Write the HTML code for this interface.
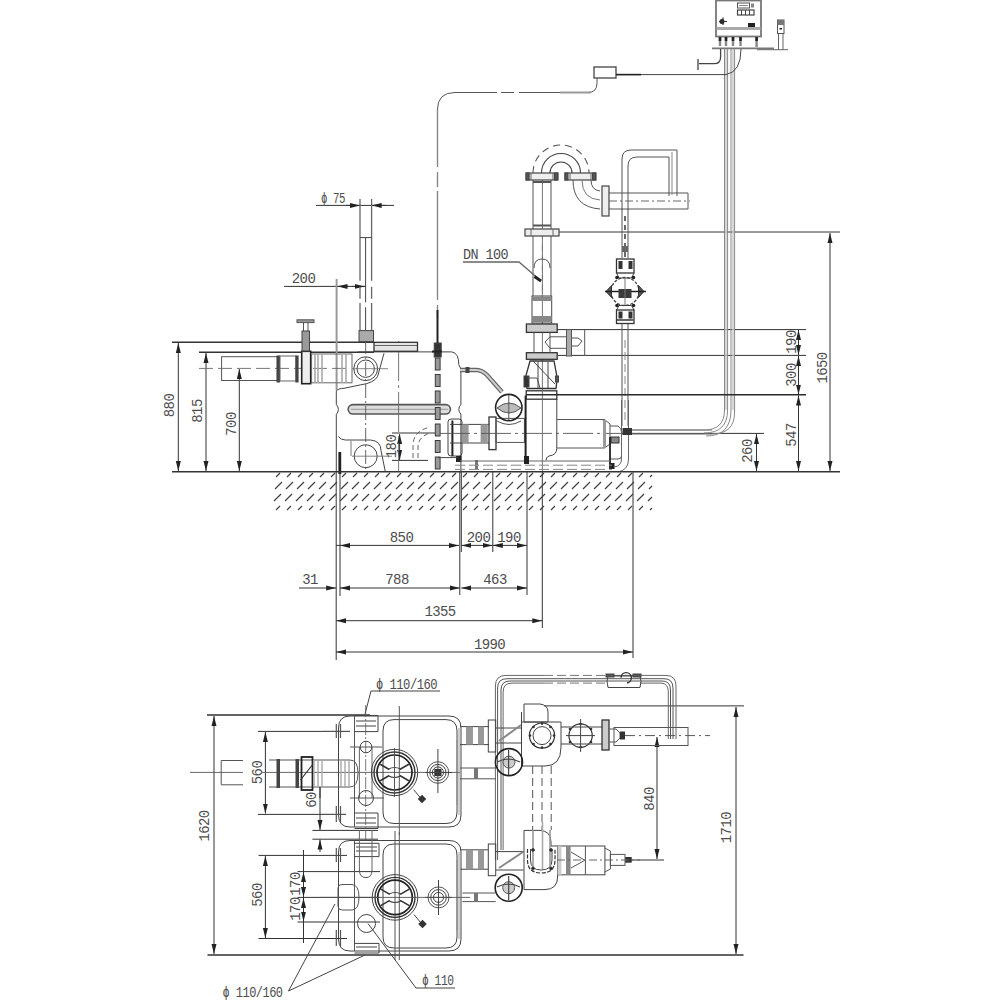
<!DOCTYPE html>
<html><head><meta charset="utf-8">
<style>
html,body{margin:0;padding:0;background:#fff;width:1000px;height:1000px;overflow:hidden}
svg{display:block}
text{font-family:"Liberation Mono",monospace;fill:#4d4d4d;font-size:14px;letter-spacing:-0.6px}
</style></head><body>
<svg width="1000" height="1000" viewBox="0 0 1000 1000">
<defs>
<marker id="ar" markerUnits="userSpaceOnUse" markerWidth="10" markerHeight="6" refX="10" refY="3" orient="auto-start-reverse"><path d="M0,0.5 L10,3 L0,5.5z" fill="#222"/></marker>
</defs>
<g id="dims-elev" stroke="#333" stroke-width="1" fill="none">
 <!-- horizontal reference lines -->
 <path d="M172,342.3H374 M199,352.2H374" stroke-width="1.5"/><path d="M559,232H840 M556,329.6H806 M558,355.4H806 M622,433.4H764"/>
 <!-- verticals w/ arrows -->
 <path d="M178.3,343V471" marker-start="url(#ar)" marker-end="url(#ar)"/>
 <path d="M206,353V471" marker-start="url(#ar)" marker-end="url(#ar)"/>
 <path d="M239.3,369V471" marker-start="url(#ar)" marker-end="url(#ar)"/>
 <path d="M830,233V471" marker-start="url(#ar)" marker-end="url(#ar)"/>
 <path d="M798.5,330V355" marker-start="url(#ar)" marker-end="url(#ar)"/>
 <path d="M798.5,356V394.5" marker-start="url(#ar)" marker-end="url(#ar)"/>
 <path d="M798.5,395.5V471" marker-start="url(#ar)" marker-end="url(#ar)"/>
 <path d="M756.5,434V471" marker-start="url(#ar)" marker-end="url(#ar)"/>
 <!-- bottom dims -->
 <path d="M336.2,472V660 M340,472V596 M459.8,472V595 M461.3,472V552 M492.8,472V552 M527,472V595 M542.3,472V628 M633,472V658"/>
 <path d="M336,545.4H340" />
 <path d="M340,545.4H459" marker-start="url(#ar)" marker-end="url(#ar)"/>
 <path d="M461.3,545.4H492.8" marker-start="url(#ar)" marker-end="url(#ar)"/>
 <path d="M492.8,545.4H527" marker-start="url(#ar)" marker-end="url(#ar)"/>
 <path d="M299,588H336.2" marker-end="url(#ar)"/>
 <path d="M340,588H459.8" marker-start="url(#ar)" marker-end="url(#ar)"/>
 <path d="M461.3,588H527" marker-start="url(#ar)" marker-end="url(#ar)"/>
 <path d="M336.2,620.7H542.3" marker-start="url(#ar)" marker-end="url(#ar)"/>
 <path d="M336.2,652H633" marker-start="url(#ar)" marker-end="url(#ar)"/>
 <!-- upper dims -->
 <path d="M316,205.4H394"/>
 <path d="M346,205.4H360" marker-end="url(#ar)"/>
 <path d="M386,205.4H371.6" marker-end="url(#ar)"/>
 <path d="M284,286.4H366"/><path d="M336.6,279V390" stroke="#999" stroke-width="2"/>
 <path d="M349,286.4H337.5" marker-end="url(#ar)"/>
 <path d="M352,286.4H364.6" marker-end="url(#ar)"/>
 <path d="M392,433H435 M392,460.4H428"/>
 <path d="M399.6,434V460" marker-start="url(#ar)" marker-end="url(#ar)"/>
</g>
<g id="txt-elev">
 <text transform="translate(174,405.5) rotate(-90)" text-anchor="middle">880</text>
 <text transform="translate(202,411) rotate(-90)" text-anchor="middle">815</text>
 <text transform="translate(235.5,424) rotate(-90)" text-anchor="middle">700</text>
 <text transform="translate(827,368) rotate(-90)" text-anchor="middle">1650</text>
 <text transform="translate(795.5,342) rotate(-90)" text-anchor="middle">190</text>
 <text transform="translate(795.5,375) rotate(-90)" text-anchor="middle">300</text>
 <text transform="translate(795.5,435) rotate(-90)" text-anchor="middle">547</text>
 <text transform="translate(752,451) rotate(-90)" text-anchor="middle">260</text>
 <text transform="translate(395.5,446.5) rotate(-90)" text-anchor="middle">180</text>
 <text x="401.5" y="541.5" text-anchor="middle">850</text>
 <text x="478.5" y="541.5" text-anchor="middle">200</text>
 <text x="509" y="541.5" text-anchor="middle">190</text>
 <text x="310" y="584" text-anchor="middle">31</text>
 <text x="397" y="584" text-anchor="middle">788</text>
 <text x="495" y="584" text-anchor="middle">463</text>
 <text x="440" y="616" text-anchor="middle">1355</text>
 <text x="489.5" y="648.5" text-anchor="middle">1990</text>
 <text x="321" y="203" textLength="24" lengthAdjust="spacingAndGlyphs">ϕ 75</text>
 <text x="303.5" y="283" text-anchor="middle">200</text>
 <text x="463" y="259" textLength="45" lengthAdjust="spacingAndGlyphs">DN 100</text>
</g>

<g id="tank-elev" stroke="#444" stroke-width="1" fill="none">
 <!-- tank outline -->
 <path d="M336.3,471.6V414.5 Q340.5,409.3 336.3,404.4 V391 Q338,388.5 344,388.3 L360.8,384.8 Q374,383 377.6,376.4 L384,353.3 M358,351.9 H451.8 Q458.8,353 458.8,364.5 Q461,368 460.9,372 V404.4 Q456.7,409.3 460.9,414.2 V471.6"/>
 <path d="M338.4,436.6 Q341,440 345.4,440 H370.6 Q381,441 381,450.6 L385.3,471.6" />
 <path d="M351,440.8V456" stroke="#777"/>
 <circle cx="365.7" cy="368.7" r="11.9"/><circle cx="365.7" cy="368.7" r="8.7"/>
 <circle cx="365.7" cy="456.2" r="11.5"/>
 <rect x="348.2" y="404.6" width="102.2" height="9.4" rx="4.7" stroke="#555" stroke-width="1.6" fill="#ddd"/>
 <path d="M351,409.3H448" stroke="#999"/>
 <path d="M365.7,340V472" stroke="#555" stroke-dasharray="14,3,2,3" stroke-width="0.9"/>
 <path d="M398.6,341V472" stroke="#666" stroke-dasharray="40,4,3,4" stroke-width="0.9"/>
 <path d="M352,368.7H388" stroke="#666" stroke-width="0.8"/>
 <path d="M352,456.2H392" stroke="#666" stroke-width="0.8"/>
 <!-- internal dashed bend -->
 <path d="M413,458 V446 Q413,432 427,428 M418,458 V447 Q418,437 430,433" stroke="#666" stroke-dasharray="5,3"/>
 <!-- top bar with vent -->
 <rect x="374" y="342.3" width="43.5" height="9" fill="#e4e4e4" stroke="#333" stroke-width="1.3"/><path d="M374,345.5H417" stroke="#666"/>
 <!-- phi75 vent pipe -->
 <path d="M360,199V280.8 M360,286.8V298.8 M360,303V330 M371.6,199V280.8 M371.6,286.8V298.8 M371.6,303V330" stroke="#666" stroke-width="1.3"/><path d="M365.6,237.6V302.4 M365.6,307.2V330 M360,237.6H371.6" stroke="#444"/>
 <rect x="359" y="330.6" width="14.5" height="11" fill="#aaa" stroke="#444"/>
 <!-- cable dashed vertical -->
 <rect x="435.3" y="358.0" width="4.8" height="12" fill="#999" stroke="#3a3a3a" stroke-width="1"/><rect x="435.3" y="374.5" width="4.8" height="12" fill="#999" stroke="#3a3a3a" stroke-width="1"/><rect x="435.3" y="391.0" width="4.8" height="12" fill="#999" stroke="#3a3a3a" stroke-width="1"/><rect x="435.3" y="407.5" width="4.8" height="12" fill="#999" stroke="#3a3a3a" stroke-width="1"/><rect x="435.3" y="424.0" width="4.8" height="12" fill="#999" stroke="#3a3a3a" stroke-width="1"/><rect x="435.3" y="440.5" width="4.8" height="12" fill="#999" stroke="#3a3a3a" stroke-width="1"/><rect x="435.3" y="457.0" width="4.8" height="12" fill="#999" stroke="#3a3a3a" stroke-width="1"/>
 <path d="M437.5,110V167 M437.5,172V187 M437.5,191V300 M437.5,305V318" stroke="#888" stroke-width="1.4"/>
 
 <rect x="434.2" y="343" width="7" height="14" fill="#333"/><path d="M432,351.5H442" stroke="#222" stroke-width="2"/>
 <path d="M437.5,310V343" stroke="#222" stroke-width="2"/>
 <!-- left inlet pipe -->
 <rect x="221.6" y="356.7" width="55.8" height="23.8" stroke="#555"/>
 <path d="M199,368.4H350" stroke="#666" stroke-dasharray="14,5" stroke-width="0.9"/>
 <rect x="276.5" y="355.5" width="3.5" height="27" fill="#444" stroke="none"/>
 <rect x="280" y="356" width="16" height="25" stroke="#666"/>
 <rect x="295.4" y="355.5" width="3.2" height="27" fill="#444" stroke="none"/>
 <rect x="301.7" y="351.3" width="9" height="32.4" stroke="#222" stroke-width="1.6" fill="#eee"/>
 <path d="M303.5,351V322.5 M308,351V322.5" stroke="#555"/><rect x="302" y="331" width="7.5" height="20" fill="#999" stroke="#444"/>
 <rect x="297" y="319.8" width="17" height="2.8" fill="#999" stroke="#555"/>
 <rect x="311.6" y="354" width="40.4" height="28.8" stroke="#666"/>
 <path d="M315,354V383 M318,354V383 M322,354V383 M342,354V383 M346,354V383" stroke="#aaa" stroke-width="1.6"/>
 <!-- bottom-left foot -->
 <rect x="338.4" y="452" width="2.8" height="22" fill="#222" stroke="none"/>
</g>
<g id="pump-elev" stroke="#444" stroke-width="1" fill="none">
 <!-- hose from tank to handwheel -->
 <path d="M460,370 H476 Q482,370 487,375 L502,392" stroke="#666" stroke-width="4.5"/>
 <path d="M460,370 H476 Q482,370 487,375 L502,392" stroke="#ccc" stroke-width="2"/>
 <rect x="466" y="367.5" width="3" height="5" fill="#444"/>
 <!-- inlet pipe -->
 <rect x="448" y="419" width="14" height="37" rx="3" stroke="#444"/>
 <path d="M452.4,420.5V456" stroke="#222" stroke-width="2"/>
 <rect x="456" y="456" width="5.5" height="6" fill="#222" stroke="none"/>
 <rect x="475" y="460" width="3" height="9" fill="#777" stroke="none"/>
 <path d="M438,457.6H458" stroke="#444"/>
 <path d="M450,424.4H489 M450,443H489"/>
 <rect x="462" y="424.4" width="6.6" height="18.6" fill="#999" stroke="none"/>
 <rect x="480.6" y="424.4" width="7.2" height="18.6" fill="#999" stroke="none"/>
 <rect x="489" y="417" width="7" height="32.6" stroke="#333" stroke-width="1.3"/>
 <rect x="496" y="418.4" width="28.4" height="24" stroke="#555"/>
 <circle cx="508.8" cy="407.6" r="13.2" stroke="#222" stroke-width="1.6"/>
 <path d="M497,408 Q509,398 521,408 Q509,418 497,408Z" fill="#bbb" stroke="#555"/>
 <path d="M508.8,395V420 M497,421 Q509,428 521,421" stroke="#555"/>
 <path d="M440,433.4H640" stroke="#555" stroke-dasharray="30,4,3,4" stroke-width="0.9"/>
 <!-- volute -->
 <path d="M525.6,395.6V459" stroke="#222" stroke-width="2"/>
 <rect x="526.2" y="390.8" width="30.6" height="8.4" stroke="#333" stroke-width="1.3"/>
 <path d="M556.8,399V448.4 Q556.8,455 549,456 Q546,457 546,460.4" />
 <path d="M542.4,180V472" stroke="#666" stroke-width="0.9"/>
 <!-- motor -->
 <path d="M557,419.5H604.5 L610,424 V444 L604.5,448 H557" stroke="#555"/>
 <path d="M604.5,420V448" stroke="#999" stroke-width="3"/>
 <path d="M610,426H618 Q621.5,428 621.5,432 V456 Q621.5,459 618,459 H610" stroke="#555"/>
 <rect x="611" y="437" width="8" height="6" fill="#888" stroke="#333"/>
 <path d="M610,437V469" stroke="#222" stroke-width="1.8"/>
 <rect x="609.5" y="463" width="5" height="6" fill="#222" stroke="none"/>
 <!-- base -->
 <path d="M526,461H610 M460,461H526" stroke="#666"/>
 <path d="M455,465.2H612 M455,469.4H612" stroke="#888" stroke-dasharray="10,4"/>
 <rect x="524" y="456" width="5" height="8" fill="#222" stroke="none"/>
 <!-- check valve -->
 <path d="M527,388.5 L525.3,378 L530,361 H554 L557.2,378 L556,388.5Z" stroke="#333" stroke-width="1.3"/>
 <path d="M533,361 L555,384 M538,362V388 M548,362V388" stroke="#444"/>
 <rect x="524" y="376" width="5" height="11" fill="#333"/>
 <rect x="555.5" y="376" width="3" height="6" fill="#555"/>
 <path d="M527,378H537 L540,388" stroke="#555"/>
 <!-- gate valve + flanges -->
 <rect x="526.4" y="352.7" width="30.8" height="6.6" stroke="#333" stroke-width="1.3" fill="#ccc"/>
 <rect x="526.4" y="324" width="30.8" height="8.4" stroke="#333" stroke-width="1.3" fill="#ccc"/>
 <path d="M534,332.4V352.7 M550,332.4V352.7" stroke="#555"/>
 <path d="M550,336.8H566.5 M550,348.3H566.5 M550,336.8 L545,342 L550,348.3" stroke="#555"/>
 <rect x="566.5" y="329.6" width="5" height="26.4" fill="#aaa" stroke="#555"/>
 <path d="M571.5,338H578 L582,341 L578,346 H571.5 M584.7,329.6V356" stroke="#555"/>
 <!-- coupling on DN100 -->
 <rect x="532" y="296" width="19.7" height="27" stroke="#444"/>
 <rect x="532" y="296.6" width="19.7" height="4.4" fill="#888" stroke="none"/>
 <rect x="532" y="316" width="19.7" height="6" fill="#888" stroke="none"/>
 <!-- DN100 pipe -->
 <path d="M533,180V229 M551,180V229 M533,236V296 M551,236V296" stroke="#555"/>
 <path d="M542.4,245V296" stroke="#777" stroke-dasharray="6,4"/>
 <path d="M534,268 Q534,259 542,259 Q550,259 550,268" stroke="#555"/>
 <rect x="525" y="229" width="34" height="7" stroke="#444" stroke-width="1.2" fill="#eee"/>
 <path d="M531,229V236 M553,229V236" stroke="#666"/>
 <rect x="526" y="173" width="32" height="7" stroke="#444" stroke-width="1.2" fill="#eee"/>
 <rect x="565" y="173" width="31" height="7" stroke="#444" stroke-width="1.2" fill="#eee"/>
 <path d="M531,173V180 M553,173V180 M570,173V180 M591,173V180" stroke="#666"/>
 
 <!-- U bend -->
 <path d="M541.5,173 A19.5,19.5 0 0 1 580.5,173" stroke="#444" stroke-width="1.1"/>
 <path d="M550,173 A11,11 0 0 1 572,173" stroke="#444" stroke-width="1.1"/>
 <path d="M533,173 A28,28 0 0 1 589,173" stroke="#555" stroke-dasharray="7,5" stroke-width="1.1"/>
 <rect x="526.2" y="173" width="3" height="7" fill="#555"/><rect x="554.5" y="173" width="3" height="7" fill="#555"/>
 <rect x="565" y="173" width="3" height="7" fill="#555"/><rect x="592.5" y="173" width="3" height="7" fill="#555"/>
 <path d="M533,182H551 M533,225.5H551" stroke="#555" stroke-width="2"/>
 <!-- elbow to horizontal -->
 <path d="M573,180 Q573,207 600,209 M591,180 Q591,190 600,191" stroke="#555"/>
 <path d="M582,180 Q582,199 600,200" stroke="#777"/>
 <rect x="602" y="186" width="7" height="30" stroke="#444" stroke-width="1.2" fill="#eee"/>
 <path d="M609,193H688V209H609" stroke="#555"/>
 <path d="M609,201H690" stroke="#666" stroke-dasharray="8,3,2,3"/>
 <!-- right bracket pipe -->
 <path d="M622,210V159 Q622,150 631,150 H677 V196" stroke="#555"/>
 <path d="M628,210V166 Q628,157 637,157 H669 V196" stroke="#555"/>
 <path d="M672,152V195" stroke="#888"/>
 <!-- vertical thin pipe to diaphragm valve -->
 <path d="M622,209V258 M628,209V258" stroke="#555"/>
 <path d="M625,216V258" stroke="#444" stroke-width="1.6" stroke-dasharray="5,4"/><path d="M622,249H628" stroke="#666" stroke-width="6"/>
 <rect x="616.5" y="259" width="17.5" height="14" stroke="#333" stroke-width="1.3"/>
 <rect x="618.5" y="261" width="4" height="8" fill="#333" stroke="none"/><rect x="628.5" y="261" width="4" height="8" fill="#333" stroke="none"/>
 <path d="M616.5,273 L619,278 H631.5 L634,273" stroke="#444"/>
 <circle cx="617" cy="277.5" r="1.8" fill="#222" stroke="none"/><circle cx="633.5" cy="277.5" r="1.8" fill="#222" stroke="none"/>
 <circle cx="625" cy="291.5" r="14" stroke="#444" stroke-width="1.3" stroke-dasharray="3,1.5"/>
 <path d="M606,291.5 L611.5,285.5 V297.5Z M644,291.5 L638.5,285.5 V297.5Z" fill="#555" stroke="#333"/>
 <path d="M605,291.5H646" stroke="#222" stroke-width="1.5"/>
 <rect x="618.5" y="289" width="13" height="9" fill="#3a3a3a" stroke="none"/>
 <path d="M625,278V305" stroke="#777"/>
 <circle cx="617" cy="305.5" r="1.8" fill="#222" stroke="none"/><circle cx="633.5" cy="305.5" r="1.8" fill="#222" stroke="none"/>
 <path d="M616.5,310 L619,305.5 H631.5 L634,310" stroke="#444"/>
 <rect x="616.5" y="310" width="17.5" height="13.5" stroke="#333" stroke-width="1.3"/>
 <rect x="618.5" y="311.5" width="4" height="7" fill="#333" stroke="none"/><rect x="628.5" y="311.5" width="4" height="7" fill="#333" stroke="none"/>
 <path d="M617,320H634" stroke="#666" stroke-width="2"/>
 <!-- pipe from diaphragm valve down -->
 <path d="M622,324V426 M628,324V426" stroke="#555"/>
 <path d="M621.5,400V459 Q621.5,466 614,467 M628.5,400V459 Q628.5,470 618,472" stroke="#666"/>
 <path d="M625,340V420" stroke="#888" stroke-dasharray="8,4"/>
 <rect x="622.5" y="428" width="9.5" height="7" fill="#333" stroke="none"/>
 <path d="M632,430H712 M632,434H712" stroke="#666"/>
 <!-- 1650 line leftover part over 190 nozzle -->
 <!-- DN100 leader -->
 <path d="M463,262H519 L541,281" stroke="#666" stroke-width="1.3"/>
 <path d="M534.5,276.5 L541,281" stroke="#222" stroke-width="3"/>
</g>
<g id="ctrl" stroke="#555" stroke-width="1" fill="none">
 <rect x="716" y="0.5" width="45" height="36" stroke="#777" stroke-width="1.8" fill="#fff"/>
 <rect x="716.5" y="27" width="44" height="3" fill="#aaa" stroke="none"/>
 <rect x="737.5" y="3" width="12" height="5" stroke="#555"/>
 <path d="M739,5.5H748" stroke="#888"/>
 <rect x="751" y="3.5" width="3" height="4" fill="#888" stroke="none"/>
 <rect x="737.5" y="10" width="16.5" height="5" stroke="#444" stroke-width="1.2"/>
 <path d="M741.5,10V15 M745.5,10V15 M749.5,10V15" stroke="#444"/>
 <rect x="748" y="23" width="7" height="4" fill="#222" stroke="none"/>
 <circle cx="722" cy="21.5" r="2.5" fill="#222" stroke="none"/>
 <path d="M719,21.5H727 M723,17.5V25" stroke="#333" stroke-width="1.2"/>
 <path d="M720,37V46 M726,37V46 M733,37V46 M740.5,37V46 M756.6,37V47" stroke="#888" stroke-width="2.4"/>
 <path d="M720,37V41 M726,37V41 M733,37V41 M740.5,37V41 M756.6,37V41" stroke="#222" stroke-width="2.6"/>
 <path d="M712,48.3H774" stroke="#777" stroke-width="1.8"/>
 <rect x="777.5" y="20" width="6.5" height="13.5" fill="#fff" stroke="#555"/>
 <rect x="777.5" y="20" width="6.5" height="5" fill="#777" stroke="none"/>
 <rect x="779.5" y="28" width="2.5" height="1.5" fill="#222" stroke="none"/>
 <path d="M778.5,34V50 M783,34V50 M757,49.7H788" stroke="#666"/>
 <!-- long double pipes -->
 <path d="M724.5,49V410 Q724.5,430 704,430 H632" stroke="#888" stroke-width="1"/>
 <path d="M727.6,49V410 Q727.6,433 704,433" stroke="#888"/>
 <path d="M731,49V410 Q731,436 706,436" stroke="#888"/>
 <path d="M734.6,49V412 Q734.6,434 712,434" stroke="#888"/>
 <path d="M726,49V410 M733,49V410" stroke="#ccc" stroke-width="1.5"/>
 <!-- hook cable -->
 <path d="M720.6,49V57 Q720.6,63.7 714,63.7 H699 M698,59V70" stroke="#444" stroke-width="1.3"/>
 <!-- cable to float switch -->
 <path d="M616,74.6H726 Q741,72 741,49" stroke="#444"/>
 <rect x="594" y="67" width="22" height="11" stroke="#444" stroke-width="1.3"/>
 <path d="M597,78V83 Q597,92.5 588,92.5 H519 M514,92.5H501 M497,92.5 H455 Q437.4,92.5 437.4,110" stroke="#555"/><path d="M560,92.5H591" stroke="#999" stroke-width="2"/><path d="M616,74.6H641" stroke="#222" stroke-width="1.6"/>
</g>

<g id="plan-dims" stroke="#333" stroke-width="1" fill="none">
 <path d="M207,715H370 M207.5,955H743.5" stroke-width="1.5"/><path d="M544,705.9H744 M258,731.4H350 M258,814.4H346 M258.5,855.4H347 M258.5,938.5H347 M297.5,871.6H380 M297.5,897.4H380 M297.5,922H380 M312.4,830.4H378 M312.4,839.2H378 M631,860H664"/>
 <path d="M214,716V954" marker-start="url(#ar)" marker-end="url(#ar)"/>
 <path d="M736,707V954" marker-start="url(#ar)" marker-end="url(#ar)"/>
 <path d="M657,737V859" marker-start="url(#ar)" marker-end="url(#ar)"/>
 <path d="M265.4,732V813.5" marker-start="url(#ar)" marker-end="url(#ar)"/>
 <path d="M265.4,856V938" marker-start="url(#ar)" marker-end="url(#ar)"/>
 <path d="M303.5,850V943"/>
 <path d="M303.5,872V897" marker-start="url(#ar)" marker-end="url(#ar)"/>
 <path d="M303.5,898V921.5" marker-start="url(#ar)" marker-end="url(#ar)"/>
 <path d="M320,787V830" marker-end="url(#ar)"/>
 <path d="M320,852V839.5" marker-end="url(#ar)"/>
 <path d="M190,772.4H243 M262,772.4H460" stroke="#555" stroke-width="0.9"/>
 <path d="M371,691H440 M371,691L365,714 M416,988H455 M416,988L368,923.5 M288.5,991L335,904 M288.5,991L365,955" stroke="#444"/>
</g>
<g id="plan-txt">
 <text transform="translate(209,826) rotate(-90)" text-anchor="middle">1620</text>
 <text transform="translate(731,827.6) rotate(-90)" text-anchor="middle">1710</text>
 <text transform="translate(653.5,799) rotate(-90)" text-anchor="middle">840</text>
 <text transform="translate(261.5,772.5) rotate(-90)" text-anchor="middle">560</text>
 <text transform="translate(262,895) rotate(-90)" text-anchor="middle">560</text>
 <text transform="translate(315.5,800) rotate(-90)" text-anchor="middle">60</text>
 <text transform="translate(299.5,884) rotate(-90)" text-anchor="middle">170</text>
 <text transform="translate(299.5,909) rotate(-90)" text-anchor="middle">170</text>
 <text x="376" y="689" textLength="61" lengthAdjust="spacingAndGlyphs">ϕ 110/160</text>
 <text x="222.5" y="997" textLength="60" lengthAdjust="spacingAndGlyphs">ϕ 110/160</text>
 <text x="422" y="985" textLength="31.5" lengthAdjust="spacingAndGlyphs">ϕ 110</text>
</g>
<g id="tank-plan" stroke="#444" stroke-width="1" fill="none">
 <!-- outer -->
 <path d="M350,716 H449 Q461,716 461,728 V815 Q461,827 449,827 H350 Q338.5,827 338.5,815 V728 Q338.5,716 350,716Z"/>
 <path d="M394,719.6 H446 Q457,719.6 457,731 V812 Q457,823.5 446,823.5 H394 Q383,823.5 383,812 V731 Q383,719.6 394,719.6Z"/>
 <path d="M354.5,716V827" stroke="#555"/>
 <path d="M336.3,724V738 M340.5,724V738 M336.3,806V822 M340.5,806V822" stroke="#555" stroke-width="1.2"/>
 <path d="M322,731.4H350 M322,814.4H346" stroke="#555"/>
 <path d="M457,740V805 M459,728V815" stroke="#888" stroke-width="0.8"/>
 <!-- top & bottom port blocks -->
 <path d="M354.5,715.5H378 M356,721H376 M356,726H376 M354.5,731.6H378 M378,715.5 V731.6" stroke="#444"/>
 <path d="M354.5,813H378 M356,818H376 M356,823H376 M354.5,828.5H378 M378,813V828.5" stroke="#444"/>
 <path d="M359.4,747V798 M372,747V798" stroke="#666"/>
 <circle cx="366" cy="747" r="5.8"/><circle cx="366" cy="798" r="7.5"/>
 <path d="M350,747H382 M350,798H384" stroke="#555"/>
 <path d="M365.7,705V840" stroke="#555" stroke-width="0.8" stroke-dasharray="12,2,2,2"/>
 <path d="M399.3,706V835" stroke="#555"/>
 <!-- manhole -->
 <circle cx="394.5" cy="772.5" r="23.2"/>
 <circle cx="394.5" cy="772.5" r="20.5" stroke="#333" stroke-width="1.4"/>
 <circle cx="394.5" cy="772.5" r="17.5" stroke="#222" stroke-width="1.7"/>
 <path d="M399.7,769.5L408.8,764.2M389.3,769.5L380.2,764.2M389.3,775.5L380.2,780.8M399.7,775.5L408.8,780.8" stroke="#333" stroke-width="1.6"/>
 <path d="M388.5,769 Q394.5,766 400.5,769 M388.5,776 Q394.5,779 400.5,776" stroke="#444" stroke-width="1.2"/>
 <path d="M394.5,748V797" stroke="#555"/>
 <path d="M413.6,789.6 L422.6,800.4" stroke="#444"/>
 <rect x="419" y="796" width="6" height="6" fill="#333" stroke="none" transform="rotate(45 422 799)"/>
 <!-- vent -->
 <circle cx="437.9" cy="772.5" r="10.8" stroke="#555"/>
 <circle cx="437.9" cy="772.5" r="8.1" stroke="#444"/>
 <circle cx="437.9" cy="772.5" r="5.6" stroke="#444"/>
 <rect x="434.3" y="768.9" width="7.2" height="7.2" fill="#333" stroke="none"/>
 <path d="M437.9,749V793 M425,772.5H452" stroke="#444"/>
 <!-- inlet pipe (plan) -->
 <path d="M243,760.5 H221.2 V784.8 H243" stroke="#555"/>
 <path d="M269,760H350 Q358,760 358,773 Q358,787 350,787 H269" stroke="#555"/>
 <rect x="276.5" y="759" width="3.5" height="29" fill="#444" stroke="none"/>
 <rect x="295.5" y="759" width="3.5" height="29" fill="#444" stroke="none"/>
 <rect x="301.5" y="757" width="11" height="33" stroke="#222" stroke-width="1.8"/>
 <path d="M300.5,780 L313,764" stroke="#333" stroke-width="1.2"/>
 <path d="M314,760V787 M318,760V787 M322,760V787 M341,760V787 M345,760V787 M349,760V787" stroke="#aaa" stroke-width="1.4"/>
 <path d="M320,787V798" stroke="#333"/>
</g>
<g id="tank-plan-2" stroke="#444" stroke-width="1" fill="none">
 <path d="M350,840.5 H449 Q461,840.5 461,852 V939 Q461,951 449,951 H350 Q338.5,951 338.5,939 V852 Q338.5,840.5 350,840.5Z"/>
 <path d="M394,844 H446 Q457,844 457,855 V937 Q457,948 446,948 H394 Q383,948 383,937 V855 Q383,844 394,844Z"/>
 <path d="M354.5,840.5V951" stroke="#555"/>
 <path d="M336.3,848V862 M340.5,848V862 M336.3,930V946 M340.5,930V946" stroke="#555" stroke-width="1.2"/>
 <path d="M457,860V930 M459,852V939" stroke="#888" stroke-width="0.8"/>
 <path d="M354.5,843.3H379 M356,847H377 M356,851H377 M354.5,856.6H379 M379,843.3V856.6" stroke="#444"/>
 <path d="M354.5,943.4H379 M356,947H377 M354.5,953H379 M379,943.4V953" stroke="#444"/>
 <path d="M359.4,830V870 M372,830V870" stroke="#666"/>
 <path d="M359.4,870 Q359.4,877.6 366,877.6 Q372,877.6 372,870" stroke="#555"/>
 <circle cx="366.5" cy="923.5" r="9"/>
 <path d="M338,888 Q338,884.5 342,884.5 H352 Q359,885 359,897 Q359,910 352,910 H342 Q338,910 338,906Z" stroke="#555"/>
 <path d="M395,831V960 M399.3,832V960" stroke="#555"/>
 <circle cx="395" cy="897.4" r="22.8"/>
 <circle cx="395" cy="897.4" r="20" stroke="#333" stroke-width="1.4"/>
 <circle cx="395" cy="897.4" r="17.3" stroke="#222" stroke-width="1.7"/>
 <path d="M400.2,894.4L409.3,889.1M389.8,894.4L380.7,889.1M389.8,900.4L380.7,905.6M400.2,900.4L409.3,905.6" stroke="#333" stroke-width="1.6"/>
 <path d="M389,894 Q395,891 401,894 M389,901 Q395,904 401,901" stroke="#444" stroke-width="1.2"/>
 <path d="M414,914.5 L423,925.5" stroke="#444"/>
 <rect x="419.5" y="921" width="6" height="6" fill="#333" stroke="none" transform="rotate(45 422.5 924)"/>
 <circle cx="438.5" cy="897.4" r="10.5" stroke="#555"/>
 <circle cx="438.5" cy="897.4" r="7.8" stroke="#444"/>
 <circle cx="438.5" cy="897.4" r="5" stroke="#444"/>
 <path d="M438.5,880V915 M425,897.4H452" stroke="#444"/>
 <path d="M320,897.4H470" stroke="#555" stroke-width="0.9"/>
</g>
<g id="pipes-plan" stroke="#444" stroke-width="1" fill="none">
 <!-- top frame pipe -->
 <path d="M497.6,860V688 Q497.6,678.7 507,678.7 H664 Q673,678.7 673,688 V739" stroke="#555"/>
 <path d="M501,850V690 Q501,681 510,681 H662 Q670.5,681 670.5,690 V739" stroke="#555"/>
 <path d="M495.4,860V686 Q495.4,675.4 506,675.4 H544 M607,675.4H666 Q676,675.4 676,686 V739" stroke="#666"/>
 <path d="M544,675.4H607" stroke="#777" stroke-dasharray="9,4"/>
 <path d="M503.1,850V692 Q503.1,683.1 512,683.1 H544 M640,683.1H661 Q668.3,683.1 668.3,692 V739" stroke="#666"/>
 <path d="M544,683.1H607" stroke="#777" stroke-dasharray="9,4"/>
 <path d="M608,676 H640 Q642,681 640,687.5 H608 Q606,681 608,676Z" stroke="#444"/>
 <path d="M621,677.6 A5.2,5.2 0 1 1 627,683" stroke="#333" stroke-width="1.4"/>
 <rect x="606" y="674" width="8" height="3" fill="#555"/><rect x="633" y="674" width="8" height="3" fill="#555"/>
 <!-- top unit -->
 <path d="M460,726.6H489 M460,744.6H489" />
 <rect x="466" y="726.6" width="7" height="18" fill="#999" stroke="none"/>
 <rect x="478" y="726.6" width="6" height="18" fill="#999" stroke="none"/>
 <rect x="488.3" y="720" width="7.4" height="32" stroke="#444"/>
 <path d="M495.7,728H521 M495.7,743H521" />
 <path d="M499,741 L521,725" stroke="#888" stroke-width="2"/>
 <path d="M521.5,712 V722 H561 V747 Q561,766 545,766 H521.5 Z" stroke="#444"/>
 <path d="M524,704 H540 Q548,705 548,712 V722 H524Z" stroke="#444"/>
 <circle cx="542" cy="735.6" r="12.6" stroke="#333" stroke-width="1.2"/>
 <circle cx="542" cy="735.6" r="9" stroke="#444"/>
 <g fill="#333" stroke="none"><circle cx="542" cy="723.6" r="1.3"/><circle cx="542" cy="747.6" r="1.3"/><circle cx="530" cy="735.6" r="1.3"/><circle cx="554" cy="735.6" r="1.3"/><circle cx="533.5" cy="727" r="1.3"/><circle cx="550.5" cy="727" r="1.3"/><circle cx="533.5" cy="744" r="1.3"/><circle cx="550.5" cy="744" r="1.3"/>
 <circle cx="580.6" cy="724" r="1.3"/><circle cx="580.6" cy="747" r="1.3"/><circle cx="570" cy="729" r="1.3"/><circle cx="591" cy="729" r="1.3"/><circle cx="570" cy="742" r="1.3"/><circle cx="591" cy="742" r="1.3"/></g>
 <path d="M561,727H602 M561,744H602"/>
 <circle cx="580.6" cy="735.6" r="11.7" stroke="#333" stroke-width="1.2"/>
 <path d="M580.6,719V752 M566,735.6H595" stroke="#444"/>
 <rect x="602" y="720" width="7" height="30" stroke="#333" stroke-width="1.3" fill="#ccc"/>
 <path d="M609,729H616 L620,733 V738 L616,742 H609" stroke="#555"/>
 <rect x="620" y="731.5" width="5" height="8" fill="#333" stroke="none"/>
 <rect x="614" y="727.5" width="74" height="18" stroke="#555"/>
 <path d="M625,735.6H710" stroke="#555" stroke-dasharray="10,4,2,4"/>
 <circle cx="509" cy="762.1" r="13.5" stroke="#222" stroke-width="1.6"/><circle cx="509" cy="762.1" r="6" stroke="#555" fill="#ccc"/>
 <path d="M508.6,750V775 M497,762 Q508.6,756 520,762" stroke="#444" stroke-width="1.2"/>
 <path d="M460,768H496 M460,778.8H496" stroke="#555"/>
 <rect x="474" y="768" width="4" height="10.8" fill="#777" stroke="none"/>
 <!-- dashed connecting pipes -->
 <path d="M532.7,766V830 M542,766V830 M551.2,766V830" stroke="#555" stroke-dasharray="8,4"/>
 <!-- bottom unit -->
 <path d="M460.5,849.8H488.3 M460.5,869.2H488.3"/>
 <rect x="466" y="849.8" width="7" height="19.4" fill="#999" stroke="none"/>
 <rect x="478" y="849.8" width="6" height="19.4" fill="#999" stroke="none"/>
 <rect x="488.3" y="844" width="7.4" height="31.7" stroke="#444"/>
 <path d="M495.7,851.6H523.5 M495.7,870H523.5"/>
 <path d="M499,868 L523,852" stroke="#888" stroke-width="2"/>
 <path d="M524,830.4 H540 Q551,831 551,842 V846 H557.7 V876 Q557.7,889.6 545,889.6 H524 Z" stroke="#444"/>
 <path d="M527.5,849 V860 Q527.5,873 541,873 Q555,873 555,860 V849" stroke="#333" stroke-width="1.2" stroke-dasharray="4,1.5"/>
 <path d="M530.5,849 V860 Q530.5,870 541,870 Q552,870 552,860 V849" stroke="#444"/>
 <path d="M533,830V867 M550,830V867" stroke="#999" stroke-width="1.6"/>
 <path d="M542.5,822V869" stroke="#aaa" stroke-width="1.6"/>
 <g fill="#222"><circle cx="533" cy="850" r="1.4"/><circle cx="551" cy="850" r="1.4"/><circle cx="533" cy="868.5" r="1.4"/><circle cx="551" cy="868.5" r="1.4"/></g>
 <rect x="557.7" y="846" width="47.2" height="28.8" stroke="#444"/>
 <rect x="566" y="846" width="4.6" height="28.8" fill="#888" stroke="none"/>
 <path d="M585.4,846V874.8 M571,852 L584.8,860.3 L571,868" stroke="#555"/><rect x="557.5" y="846" width="3.9" height="28.8" fill="#ccc" stroke="none"/>
 <path d="M604.9,848 L610.4,851 V869 L604.9,872" stroke="#555"/>
 <rect x="610.4" y="854.4" width="14.6" height="11" stroke="#555"/>
 <rect x="625.2" y="857" width="6.5" height="5.7" fill="#333" stroke="none"/>
 <path d="M557,860H640" stroke="#666" stroke-dasharray="8,3,2,3"/>
 <circle cx="508.7" cy="887.7" r="13.5" stroke="#222" stroke-width="1.6"/><circle cx="508.7" cy="887.7" r="6" stroke="#555" fill="#ccc"/>
 <path d="M508.7,876V900 M497,887 Q508.7,881 520,887" stroke="#444" stroke-width="1.2"/>
 <path d="M462.4,893H495.7 M462.4,901.6H495.7" stroke="#555"/>
 <rect x="474" y="893" width="4" height="8.6" fill="#777" stroke="none"/>
</g>
<path d="M172,471.8H840" stroke="#333" stroke-width="1.6"/>
<path d="M526,394.8H806" stroke="#2a2a2a" stroke-width="1.6"/>
<!-- ground hatch -->
<path d="M276,477L280,473M275,489L282,482M287,477L291,473M274,501L281,494M286,489L293,482M298,477L302,473M276,510L280,506M285,501L292,494M297,489L304,482M309,477L313,473M287,510L291,506M296,501L303,494M308,489L315,482M320,477L324,473M298,510L302,506M307,501L314,494M319,489L326,482M331,477L335,473M309,510L313,506M318,501L325,494M330,489L337,482M342,477L346,473M320,510L324,506M329,501L336,494M341,489L348,482M353,477L357,473M331,510L335,506M340,501L347,494M352,489L359,482M364,477L368,473M342,510L346,506M351,501L358,494M363,489L370,482M375,477L379,473M353,510L357,506M362,501L369,494M374,489L381,482M386,477L390,473M364,510L368,506M373,501L380,494M385,489L392,482M397,477L401,473M375,510L379,506M384,501L391,494M396,489L403,482M408,477L412,473M386,510L390,506M395,501L402,494M407,489L414,482M419,477L423,473M397,510L401,506M406,501L413,494M418,489L425,482M430,477L434,473M408,510L412,506M417,501L424,494M429,489L436,482M441,477L445,473M419,510L423,506M428,501L435,494M440,489L447,482M452,477L456,473M430,510L434,506M439,501L446,494M451,489L458,482M463,477L467,473M441,510L445,506M450,501L457,494M462,489L469,482M474,477L478,473M452,510L456,506M461,501L468,494M473,489L480,482M485,477L489,473M463,510L467,506M472,501L479,494M484,489L491,482M496,477L500,473M474,510L478,506M483,501L490,494M495,489L502,482M507,477L511,473M485,510L489,506M494,501L501,494M506,489L513,482M518,477L522,473M496,510L500,506M505,501L512,494M517,489L524,482M529,477L533,473M507,510L511,506M516,501L523,494M528,489L535,482M540,477L544,473M518,510L522,506M527,501L534,494M539,489L546,482M551,477L555,473M529,510L533,506M538,501L545,494M550,489L557,482M562,477L566,473M540,510L544,506M549,501L556,494M561,489L568,482M573,477L577,473M551,510L555,506M560,501L567,494M572,489L579,482M584,477L588,473M562,510L566,506M571,501L578,494M583,489L590,482M595,477L599,473M573,510L577,506M582,501L589,494M594,489L601,482M606,477L610,473M584,510L588,506M593,501L600,494M605,489L612,482M617,477L621,473M595,510L599,506M604,501L611,494M616,489L623,482M628,477L632,473M606,510L610,506M615,501L622,494M627,489L634,482M639,477L643,473M617,510L621,506M626,501L633,494M638,489L645,482M650,477L652,475M628,510L632,506M637,501L644,494M649,489L652,486M639,510L643,506M648,501L652,497M650,510L652,508" stroke="#404040" stroke-width="1.2" fill="none"/>
</svg>
</body></html>
